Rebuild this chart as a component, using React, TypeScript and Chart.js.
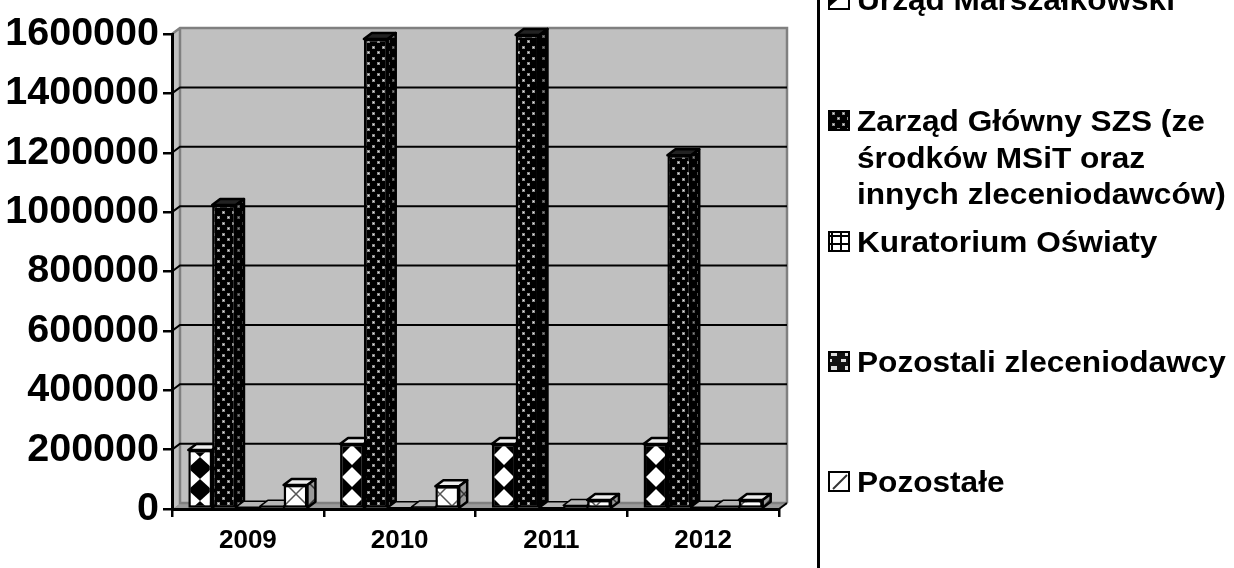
import React, { useEffect, useRef } from "react";
import { Chart, registerables } from "chart.js";

Chart.register(...registerables);

const years = ["2009", "2010", "2011", "2012"];
const yTicks = [0, 200000, 400000, 600000, 800000, 1000000, 1200000, 1400000, 1600000];
const urzad = [199000, 219000, 219000, 219000];
const zarzad = [1024000, 1583000, 1597000, 1192000];
const kuratorium = [6000, 4000, 4000, 6000];
const pozostali = [9000, 7000, 12000, 9000];
const pozostale = [81000, 77000, 30000, 30000];
const legendLabels = [
  ["Urząd Marszałkowski"],
  ["Zarząd Główny SZS (ze", "środków MSiT oraz", "innych zleceniodawców)"],
  ["Kuratorium Oświaty"],
  ["Pozostali zleceniodawcy"],
  ["Pozostałe"],
];

const FONT = "'Liberation Sans', Arial, sans-serif";
const DX = 8;
const DY = -6;

function tile(w: number, h: number, paint: (c: CanvasRenderingContext2D) => void) {
  const cv = document.createElement("canvas");
  cv.width = w;
  cv.height = h;
  const c = cv.getContext("2d")!;
  paint(c);
  return cv;
}
function diamond(c: CanvasRenderingContext2D, x: number, y: number, rx: number, ry: number) {
  c.beginPath();
  c.moveTo(x - rx, y);
  c.lineTo(x, y - ry);
  c.lineTo(x + rx, y);
  c.lineTo(x, y + ry);
  c.closePath();
  c.fill();
}
function makePatterns(ctx: CanvasRenderingContext2D) {
  const shift = (p: CanvasPattern, x: number, y: number) => {
    p.setTransform(new DOMMatrix().translate(x, y));
    return p;
  };
  const blackOnWhite = () =>
    ctx.createPattern(
      tile(24, 22, (c) => {
        c.fillStyle = "#fff";
        c.fillRect(0, 0, 24, 22);
        c.fillStyle = "#000";
        diamond(c, 12, 11, 12, 11);
      }),
      "repeat"
    )!;
  const whiteOnBlack = () =>
    ctx.createPattern(
      tile(24, 22, (c) => {
        c.fillStyle = "#000";
        c.fillRect(0, 0, 24, 22);
        c.fillStyle = "#fff";
        diamond(c, 12, 11, 10, 10);
      }),
      "repeat"
    )!;
  const s1 = [
    shift(blackOnWhite(), 188, 457),
    shift(whiteOnBlack(), 340, 444),
    shift(whiteOnBlack(), 492, 444),
    shift(whiteOnBlack(), 644, 444),
  ];
  const s2 = ctx.createPattern(
    tile(10, 11, (c) => {
      c.fillStyle = "#000";
      c.fillRect(0, 0, 10, 11);
      [[2, 2], [7, 7]].forEach(([x, y]) => {
        c.fillStyle = "#8a8a8a";
        c.fillRect(x, y, 3, 3);
        c.fillStyle = "#e8e8e8";
        c.fillRect(x + 1, y + 1, 1, 1);
      });
    }),
    "repeat"
  )!;
  const s3 = ctx.createPattern(
    tile(9, 8, (c) => {
      c.fillStyle = "#fff";
      c.fillRect(0, 0, 9, 8);
      c.fillStyle = "#000";
      c.fillRect(0, 3, 9, 2);
      c.fillRect(3, 0, 2, 8);
    }),
    "repeat"
  )!;
  const s4 = ctx.createPattern(
    tile(14, 14, (c) => {
      c.fillStyle = "#111";
      c.fillRect(0, 0, 14, 14);
      c.fillStyle = "#ddd";
      c.fillRect(5, 2, 6, 4);
      c.fillRect(1, 9, 5, 3);
    }),
    "repeat"
  )!;
  const s5 = ctx.createPattern(
    tile(24, 24, (c) => {
      c.fillStyle = "#fff";
      c.fillRect(0, 0, 24, 24);
      c.strokeStyle = "#555";
      c.lineWidth = 1.5;
      c.beginPath();
      c.moveTo(0, 0);
      c.lineTo(24, 24);
      c.moveTo(24, 0);
      c.lineTo(0, 24);
      c.stroke();
    }),
    "repeat"
  )!;
  return { s1, s2, s3, s4, s5: shift(s5, 284, 482) };
}

const wallPlugin = {
  id: "wall",
  beforeDraw(chart: any) {
    const { ctx, chartArea: a, scales } = chart;
    const y = scales.y;
    ctx.save();
    ctx.fillStyle = "#c0c0c0";
    ctx.fillRect(a.left + DX, a.top + DY, a.right - a.left, a.bottom - a.top);
    ctx.beginPath();
    ctx.moveTo(a.left, a.top);
    ctx.lineTo(a.left + DX, a.top + DY);
    ctx.lineTo(a.left + DX, a.bottom + DY);
    ctx.lineTo(a.left, a.bottom);
    ctx.closePath();
    ctx.fill();
    ctx.fillStyle = "#9a9a9a";
    ctx.beginPath();
    ctx.moveTo(a.left, a.bottom);
    ctx.lineTo(a.left + DX, a.bottom + DY);
    ctx.lineTo(a.right + DX, a.bottom + DY);
    ctx.lineTo(a.right, a.bottom);
    ctx.closePath();
    ctx.fill();
    ctx.strokeStyle = "#808080";
    ctx.lineWidth = 2.5;
    ctx.beginPath();
    ctx.moveTo(a.left, a.top);
    ctx.lineTo(a.left + DX, a.top + DY);
    ctx.lineTo(a.right + DX, a.top + DY);
    ctx.lineTo(a.right + DX, a.bottom + DY);
    ctx.moveTo(a.left + DX, a.top + DY);
    ctx.lineTo(a.left + DX, a.bottom + DY);
    ctx.lineTo(a.right + DX, a.bottom + DY);
    ctx.stroke();
    ctx.strokeStyle = "#000";
    ctx.lineWidth = 2;
    yTicks.slice(1, -1).forEach((v) => {
      const py = y.getPixelForValue(v);
      ctx.beginPath();
      ctx.moveTo(a.left, py);
      ctx.lineTo(a.left + DX, py + DY);
      ctx.lineTo(a.right + DX, py + DY);
      ctx.stroke();
    });
    ctx.beginPath();
    ctx.moveTo(a.right, a.bottom);
    ctx.lineTo(a.right + DX, a.bottom + DY);
    ctx.stroke();
    ctx.restore();
  },
  beforeDatasetDraw() {
    return false;
  },
  afterDatasetsDraw(chart: any) {
    const { ctx } = chart;
    chart.data.datasets.forEach((ds: any, i: number) => {
      chart.getDatasetMeta(i).data.forEach((bar: any, j: number) => {
        const l = bar.x - bar.width / 2;
        const r = bar.x + bar.width / 2;
        const t = bar.y;
        const b = bar.base;
        const fill = Array.isArray(ds.backgroundColor) ? ds.backgroundColor[j] : ds.backgroundColor;
        bar.draw(ctx);
        ctx.save();
        ctx.strokeStyle = "#000";
        ctx.lineWidth = i === 2 || i === 3 ? 1.5 : 2.5;
        ctx.lineJoin = "round";
        ctx.beginPath();
        ctx.moveTo(l, t);
        ctx.lineTo(l + DX, t + DY);
        ctx.lineTo(r + DX, t + DY);
        ctx.lineTo(r, t);
        ctx.closePath();
        ctx.fillStyle = i === 1 ? "#222" : i === 0 || i === 4 ? "#eee" : "#b5b5b5";
        ctx.fill();
        ctx.stroke();
        ctx.beginPath();
        ctx.moveTo(r, t);
        ctx.lineTo(r + DX, t + DY);
        ctx.lineTo(r + DX, b + DY);
        ctx.lineTo(r, b);
        ctx.closePath();
        ctx.fillStyle = fill;
        ctx.fill();
        ctx.fillStyle = "rgba(0,0,0,0.4)";
        ctx.fill();
        ctx.stroke();
        ctx.restore();
      });
    });
  },
};

const legendPlugin = {
  id: "sideLegend",
  afterDraw(chart: any) {
    const { ctx } = chart;
    const baselines = [10, 131, 252, 372, 492];
    const swatches = chart.data.datasets.map((d: any) =>
      Array.isArray(d.backgroundColor) ? d.backgroundColor[3] : d.backgroundColor
    );
    ctx.save();
    ctx.fillStyle = "#000";
    ctx.fillRect(817, 0, 3, 568);
    legendLabels.forEach((lines, i) => {
      const by = baselines[i];
      const top = by - 20;
      ctx.fillStyle = i === 0 ? "#fff" : swatches[i];
      ctx.fillRect(829, top, 20, 19);
      if (i === 0) {
        ctx.fillStyle = "#000";
        ctx.beginPath();
        ctx.moveTo(829, top);
        ctx.lineTo(849, top);
        ctx.lineTo(829, top + 17);
        ctx.closePath();
        ctx.fill();
      }
      if (i === 4) {
        ctx.fillStyle = "#fff";
        ctx.fillRect(829, top, 20, 19);
        ctx.strokeStyle = "#333";
        ctx.lineWidth = 2;
        ctx.beginPath();
        ctx.moveTo(833, top + 17);
        ctx.lineTo(847, top + 3);
        ctx.stroke();
      }
      ctx.strokeStyle = "#000";
      ctx.lineWidth = 2;
      ctx.strokeRect(829, top, 20, 19);
      ctx.fillStyle = "#000";
      ctx.font = `bold 29px ${FONT}`;
      ctx.textBaseline = "alphabetic";
      ctx.textAlign = "left";
      lines.forEach((line, k) => {
        ctx.save();
        ctx.translate(857, by + k * 36.7);
        ctx.scale(1.09, 1);
        ctx.fillText(line, 0, 0);
        ctx.restore();
      });
    });
    ctx.restore();
  },
};

export default function App() {
  const ref = useRef<HTMLCanvasElement>(null);
  useEffect(() => {
    const canvas = ref.current!;
    const ctx = canvas.getContext("2d")!;
    const p = makePatterns(ctx);
    const series = [urzad, zarzad, kuratorium, pozostali, pozostale];
    const fills = [p.s1, p.s2, p.s3, p.s4, p.s5];
    const chart = new Chart(canvas, {
      type: "bar",
      data: {
        labels: years,
        datasets: series.map((data, i) => ({
          label: legendLabels[i].join(" "),
          data,
          backgroundColor: fills[i] as any,
          borderColor: "#000",
          borderWidth: 2.5,
          borderSkipped: false,
          barPercentage: 1,
          categoryPercentage: 0.785,
        })),
      },
      options: {
        responsive: false,
        animation: false,
        events: [],
        layout: { padding: { top: 34, right: 455, left: 0, bottom: 0 } },
        plugins: { legend: { display: false }, tooltip: { enabled: false }, title: { display: false } },
        scales: {
          x: {
            afterFit: (s: any) => {
              s.height = 59;
            },
            border: { color: "#000", width: 3 },
            grid: { drawOnChartArea: false, color: "#000", lineWidth: 2.5, tickLength: 8 },
            ticks: { color: "#000", font: { family: FONT, weight: "bold", size: 26 }, padding: 8, maxRotation: 0 },
          },
          y: {
            min: 0,
            max: 1600000,
            afterFit: (s: any) => {
              s.width = 172;
            },
            border: { color: "#000", width: 3 },
            grid: { drawOnChartArea: false, color: "#000", lineWidth: 2.5, tickLength: 9 },
            ticks: {
              stepSize: 200000,
              color: "#000",
              padding: 4,
              font: { family: FONT, weight: "bold", size: 39.5 },
              callback: (v: any) => String(v),
            },
          },
        },
      },
      plugins: [wallPlugin, legendPlugin],
    } as any);
    return () => chart.destroy();
  }, []);
  return (
    <canvas
      ref={ref}
      width={1234}
      height={568}
      style={{ position: "absolute", left: 0, top: 0, display: "block" }}
    />
  );
}
